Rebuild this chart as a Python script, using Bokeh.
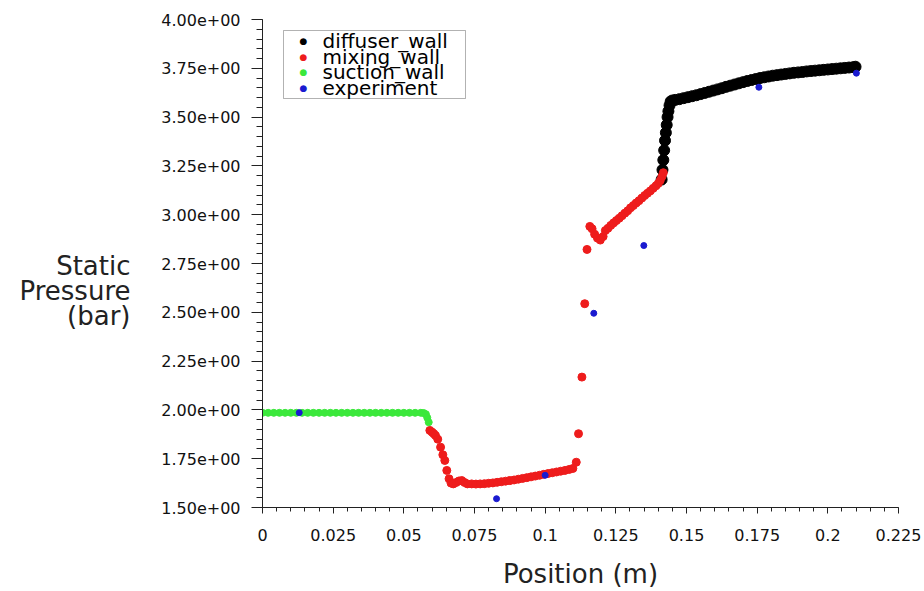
from bokeh.plotting import figure
from bokeh.models import Range1d, FixedTicker, Label, BoxAnnotation, LinearAxis
from bokeh.embed import file_html
from bokeh.resources import INLINE

# ---------------- data ----------------
suction_x = [0.000, 0.002, 0.004, 0.006, 0.008, 0.010, 0.012, 0.014, 0.016, 0.018,
             0.020, 0.022, 0.024, 0.026, 0.028, 0.030, 0.032, 0.034, 0.036, 0.038,
             0.040, 0.042, 0.044, 0.046, 0.048, 0.050, 0.052, 0.054, 0.056, 0.057,
             0.0578, 0.0583, 0.0588]
suction_y = [1.985, 1.985, 1.985, 1.985, 1.985, 1.985, 1.985, 1.985, 1.985, 1.985,
             1.985, 1.985, 1.985, 1.985, 1.985, 1.985, 1.985, 1.985, 1.985, 1.985,
             1.985, 1.985, 1.985, 1.985, 1.985, 1.985, 1.985, 1.985, 1.985, 1.984,
             1.978, 1.960, 1.937]

mixing_x = [0.0592, 0.0600, 0.0606, 0.0612, 0.0620, 0.0630, 0.0638, 0.0645, 0.0652, 0.0660,
            0.0667, 0.0675, 0.0685, 0.0695, 0.0705, 0.0715, 0.0725, 0.0740, 0.0755, 0.0770,
            0.0785, 0.0800, 0.0815, 0.0830, 0.0845, 0.0860, 0.0875, 0.0890, 0.0905, 0.0920,
            0.0935, 0.0950, 0.0965, 0.0980, 0.0995, 0.1010, 0.1025, 0.1040, 0.1055, 0.1070,
            0.1085, 0.1098, 0.1110, 0.1118, 0.1130, 0.1140, 0.1148, 0.1158, 0.1166, 0.1175,
            0.1185, 0.1195, 0.1205, 0.1213, 0.1222, 0.1232, 0.1242, 0.1252, 0.1262, 0.1272,
            0.1282, 0.1292, 0.1302, 0.1312, 0.1322, 0.1332, 0.1342, 0.1352, 0.1362, 0.1372,
            0.1382, 0.1392, 0.1400, 0.1407, 0.1413, 0.1418]
mixing_y = [1.895, 1.886, 1.878, 1.869, 1.850, 1.809, 1.770, 1.741, 1.690, 1.647,
            1.625, 1.621, 1.628, 1.636, 1.638, 1.628, 1.621, 1.621, 1.620, 1.621,
            1.622, 1.624, 1.626, 1.629, 1.632, 1.635, 1.638, 1.641, 1.645, 1.649,
            1.653, 1.657, 1.661, 1.665, 1.670, 1.674, 1.678, 1.682, 1.686, 1.690,
            1.695, 1.700, 1.732, 1.878, 2.168, 2.544, 2.822, 2.940, 2.928, 2.900,
            2.880, 2.870, 2.888, 2.919, 2.930, 2.945, 2.958, 2.970, 2.982, 2.995,
            3.008, 3.020, 3.035, 3.047, 3.060, 3.072, 3.085, 3.098, 3.110, 3.122,
            3.135, 3.148, 3.160, 3.175, 3.195, 3.215]

diffuser_x = [0.1412, 0.1415, 0.1418, 0.1421, 0.1424, 0.1427, 0.1430, 0.1433, 0.1436, 0.1440,
              0.1444, 0.1450, 0.1460, 0.1475, 0.1490, 0.1505, 0.1520, 0.1535, 0.1550, 0.1565,
              0.1580, 0.1595, 0.1610, 0.1625, 0.1640, 0.1655, 0.1670, 0.1685, 0.1700, 0.1715,
              0.1730, 0.1745, 0.1760, 0.1775, 0.1790, 0.1805, 0.1820, 0.1835, 0.1850, 0.1865,
              0.1880, 0.1895, 0.1910, 0.1925, 0.1940, 0.1955, 0.1970, 0.1985, 0.2000, 0.2015,
              0.2030, 0.2045, 0.2060, 0.2075, 0.2090, 0.2098]
diffuser_y = [3.180, 3.230, 3.280, 3.330, 3.380, 3.420, 3.460, 3.500, 3.530, 3.560,
              3.580, 3.585, 3.588, 3.592, 3.597, 3.602, 3.607, 3.612, 3.618, 3.624,
              3.630, 3.636, 3.642, 3.648, 3.655, 3.661, 3.667, 3.673, 3.679, 3.685,
              3.690, 3.695, 3.700, 3.704, 3.708, 3.712, 3.715, 3.718, 3.721, 3.724,
              3.727, 3.729, 3.731, 3.734, 3.736, 3.738, 3.740, 3.742, 3.744, 3.746,
              3.748, 3.750, 3.752, 3.754, 3.756, 3.758]

experiment_x = [0.0130, 0.0828, 0.1000, 0.1172, 0.1349, 0.1756, 0.2101]
experiment_y = [1.986, 1.545, 1.665, 2.495, 2.842, 3.653, 3.725]

series_names = ["diffuser_wall", "mixing_wall", "suction_wall", "experiment"]
series_colors = ["#000000", "#ee1c1c", "#3be83b", "#1a1ad0"]

x_ticks = [0, 0.025, 0.05, 0.075, 0.1, 0.125, 0.15, 0.175, 0.2, 0.225]
x_tick_labels = ["0", "0.025", "0.05", "0.075", "0.1", "0.125", "0.15", "0.175", "0.2", "0.225"]
y_ticks = [1.5, 1.75, 2.0, 2.25, 2.5, 2.75, 3.0, 3.25, 3.5, 3.75, 4.0]
y_tick_labels = ["1.50e+00", "1.75e+00", "2.00e+00", "2.25e+00", "2.50e+00", "2.75e+00",
                 "3.00e+00", "3.25e+00", "3.50e+00", "3.75e+00", "4.00e+00"]

x_title = "Position (m)"
y_title_lines = ["Static", "Pressure", "(bar)"]

# ---------------- figure ----------------
FONT = "DejaVu Sans"
W, H = 924, 591
LEFT, RIGHT, TOP, BOTTOM = 262, 26, 19, 84
X0, X1, Y0, Y1 = 0.0, 0.225, 1.5, 4.0
FRAME_W = W - LEFT - RIGHT
FRAME_H = H - TOP - BOTTOM

p = figure(width=W, height=H, output_backend="svg", toolbar_location=None,
           x_range=Range1d(X0, X1), y_range=Range1d(Y0, Y1),
           min_border_left=LEFT, min_border_right=RIGHT,
           min_border_top=TOP, min_border_bottom=BOTTOM)
p.outline_line_color = None
p.xgrid.visible = False
p.ygrid.visible = False
p.background_fill_color = "white"
p.border_fill_color = "white"

x_minor = [round(i * 0.005, 4) for i in range(46)]
y_minor = [round(1.5 + i * 0.05, 3) for i in range(51)]
p.xaxis.ticker = FixedTicker(ticks=x_ticks, minor_ticks=x_minor)
p.yaxis.ticker = FixedTicker(ticks=y_ticks, minor_ticks=y_minor)
p.xaxis.major_label_overrides = dict(zip(x_ticks, x_tick_labels))
p.yaxis.major_label_overrides = dict(zip(y_ticks, y_tick_labels))

for ax in (p.xaxis, p.yaxis):
    ax.axis_line_color = "#222222"
    ax.major_tick_line_color = "#222222"
    ax.minor_tick_line_color = "#222222"
    ax.major_tick_in = 0
    ax.minor_tick_in = 0
    ax.major_label_text_font = FONT
    ax.major_label_text_font_size = "16px"
    ax.major_label_text_color = "#111111"

p.yaxis.major_tick_out = 11
p.yaxis.minor_tick_out = 6
p.yaxis.major_label_standoff = 11
p.xaxis.major_tick_out = 6
p.xaxis.minor_tick_out = 4
p.xaxis.major_label_standoff = 15

p.xaxis.axis_label = x_title
p.xaxis.axis_label_text_font = FONT
p.xaxis.axis_label_text_font_size = "26px"
p.xaxis.axis_label_text_font_style = "normal"
p.xaxis.axis_label_text_color = "#222222"
p.xaxis.axis_label_standoff = 15

# y title: three horizontal, right-aligned lines, drawn as the labels of a bare
# extra axis (pixel-based range) placed to the left of the value axis
p.extra_y_ranges = {"ytitle": Range1d(0, FRAME_H)}
title_rows = [(H - BOTTOM) - (265 + 25 * i) for i in range(len(y_title_lines))]
title_axis = LinearAxis(y_range_name="ytitle",
                        ticker=FixedTicker(ticks=title_rows, minor_ticks=[]),
                        major_label_overrides=dict(zip(title_rows, y_title_lines)))
title_axis.axis_line_color = None
title_axis.major_tick_line_color = None
title_axis.minor_tick_line_color = None
title_axis.major_tick_out = 0
title_axis.major_tick_in = 0
title_axis.minor_tick_out = 0
title_axis.minor_tick_in = 0
title_axis.major_label_standoff = 28
title_axis.major_label_text_font = FONT
title_axis.major_label_text_font_size = "26px"
title_axis.major_label_text_color = "#222222"
p.add_layout(title_axis, "left")


def to_data(px, py):
    """canvas pixel (from top-left) -> data coordinates"""
    return (X0 + (px - LEFT) / FRAME_W * (X1 - X0),
            Y0 + (H - BOTTOM - py) / FRAME_H * (Y1 - Y0))


# ---------------- glyphs ----------------
p.scatter(diffuser_x, diffuser_y, size=11, marker="circle",
          fill_color=series_colors[0], line_color=series_colors[0])
p.scatter(mixing_x, mixing_y, size=8, marker="circle",
          fill_color=series_colors[1], line_color=series_colors[1])
p.scatter(suction_x, suction_y, size=7, marker="circle",
          fill_color=series_colors[2], line_color=series_colors[2])
p.scatter(experiment_x, experiment_y, size=6, marker="circle",
          fill_color=series_colors[3], line_color=series_colors[3])

# ---------------- legend (drawn by hand, tight rows like the original) ----------------
bl, bt = to_data(283, 30)
br, bb = to_data(465, 98)
p.add_layout(BoxAnnotation(left=bl, right=br, top=bt, bottom=bb,
                           fill_color="white", fill_alpha=1.0,
                           line_color="#000000", line_width=1, level="annotation"))
row_px = [40, 56, 71.5, 87]
for name, color, ry in zip(series_names, series_colors, row_px):
    mx, my = to_data(303, ry)
    p.add_layout(Label(x=mx, y=my, text="\u25cf", text_align="center", text_baseline="middle",
                       text_font=FONT, text_font_size="9px", text_color=color, level="annotation"))
    tx, ty = to_data(322, ry)
    p.add_layout(Label(x=tx, y=ty, text=name, text_align="left", text_baseline="middle",
                       text_font=FONT, text_font_size="20px", text_color="#000000",
                       level="annotation"))

open("out.html", "w").write(file_html(p, INLINE))
